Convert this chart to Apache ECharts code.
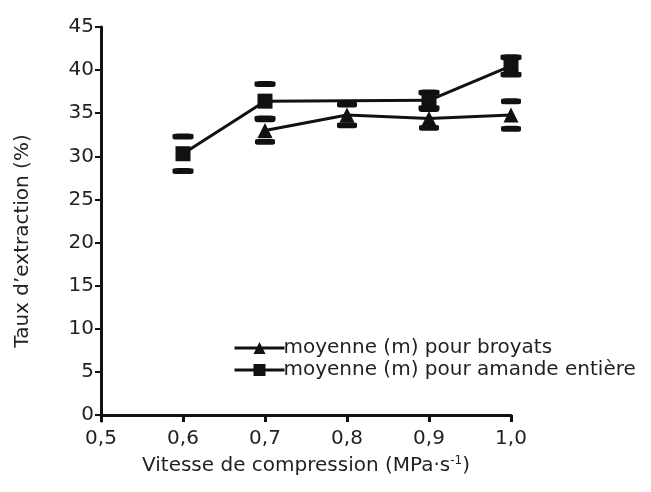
<!DOCTYPE html>
<html>
<head>
<meta charset="utf-8">
<script src="https://cdn.jsdelivr.net/npm/echarts@6/dist/echarts.min.js"></script>
<style>
  html, body { margin: 0; padding: 0; background: #fff; }
  #chart { width: 651px; height: 492px; }
</style>
</head>
<body>
<div id="chart"></div>
<script>
const yTicks = [0, 5, 10, 15, 20, 25, 30, 35, 40, 45];

// broyats (triangles)
const broyatsX = [0.7, 0.8, 0.9, 1.0];
const broyatsY = [33.0, 34.8, 34.4, 34.8];
const broyatsErr = [1.3, 1.2, 1.1, 1.6];

// amande entiere (squares)
const amandeX = [0.6, 0.7, 0.9, 1.0];
const amandeY = [30.3, 36.4, 36.5, 40.5];
const amandeErr = [2.0, 2.0, 0.9, 1.0];

const ink = "#111";
const txt = "#231f20";
const font = "'DejaVu Sans', 'Liberation Sans', sans-serif";
const fs = 20;

const pts = (xs, ys) => xs.map((x, i) => [x, ys[i]]);
const caps = (xs, ys, es) => {
  let out = [];
  xs.forEach((x, i) => {
    out.push([x, ys[i] + es[i]]);
    out.push([x, ys[i] - es[i]]);
  });
  return out;
};

const chart = echarts.init(document.getElementById("chart"));

const option = {
  animation: false,
  textStyle: { fontFamily: font },
  grid: { left: 101, right: 140, top: 27, bottom: 71 },
  legend: {
    orient: "vertical",
    left: 228,
    top: 333,
    itemWidth: 50,
    itemHeight: 15,
    itemGap: 2,
    lineStyle: { width: 3 },
    textStyle: { fontFamily: font, fontSize: fs, color: txt, padding: [0, 0, 0, -6] },
    data: ["moyenne (m) pour broyats", "moyenne (m) pour amande entière"],
  },
  xAxis: {
    type: "value",
    min: 0.5,
    max: 1.0,
    interval: 0.1,
    splitLine: { show: false },
    axisLine: { lineStyle: { color: ink, width: 3 } },
    axisTick: { length: 7, lineStyle: { color: ink, width: 3 } },
    axisLabel: {
      fontSize: fs,
      color: txt,
      margin: 8,
      formatter: (v) => v.toFixed(1).replace(".", ","),
    },
    name: "{a|Vitesse de compression (MPa·s}{s|-1}{a|)}",
    nameLocation: "middle",
    nameGap: 34,
    nameTextStyle: {
      rich: {
        a: { fontFamily: font, fontSize: fs, color: txt },
        s: { fontFamily: font, fontSize: 12, color: txt, padding: [0, 0, 9, 0] },
      },
    },
  },
  yAxis: {
    type: "value",
    min: -0.7,
    max: 45,
    splitLine: { show: false },
    axisLine: { onZero: false, lineStyle: { color: ink, width: 3 } },
    axisTick: { length: 6, customValues: yTicks, lineStyle: { color: ink, width: 2 } },
    axisLabel: { fontSize: fs, color: txt, margin: 7, customValues: yTicks },
    name: "Taux d’extraction (%)",
    nameLocation: "middle",
    nameGap: 68,
    nameTextStyle: { fontFamily: font, fontSize: fs, color: txt, padding: [0, 34, 0, 0] },
  },
  series: [
    {
      name: "moyenne (m) pour broyats",
      type: "line",
      data: pts(broyatsX, broyatsY),
      symbol: "triangle",
      symbolSize: 15,
      lineStyle: { color: ink, width: 3 },
      itemStyle: { color: ink },
    },
    {
      name: "moyenne (m) pour amande entière",
      type: "line",
      data: pts(amandeX, amandeY),
      symbol: "rect",
      symbolSize: 15,
      lineStyle: { color: ink, width: 3 },
      itemStyle: { color: ink },
    },
    {
      type: "scatter",
      data: caps(broyatsX, broyatsY, broyatsErr),
      symbol: "roundRect",
      symbolSize: [20, 6],
      itemStyle: { color: ink, opacity: 1 },
    },
    {
      type: "scatter",
      data: caps(amandeX, amandeY, amandeErr),
      symbol: "roundRect",
      symbolSize: [21, 6],
      itemStyle: { color: ink, opacity: 1 },
    },
  ],
};

chart.setOption(option);
</script>
</body>
</html>
